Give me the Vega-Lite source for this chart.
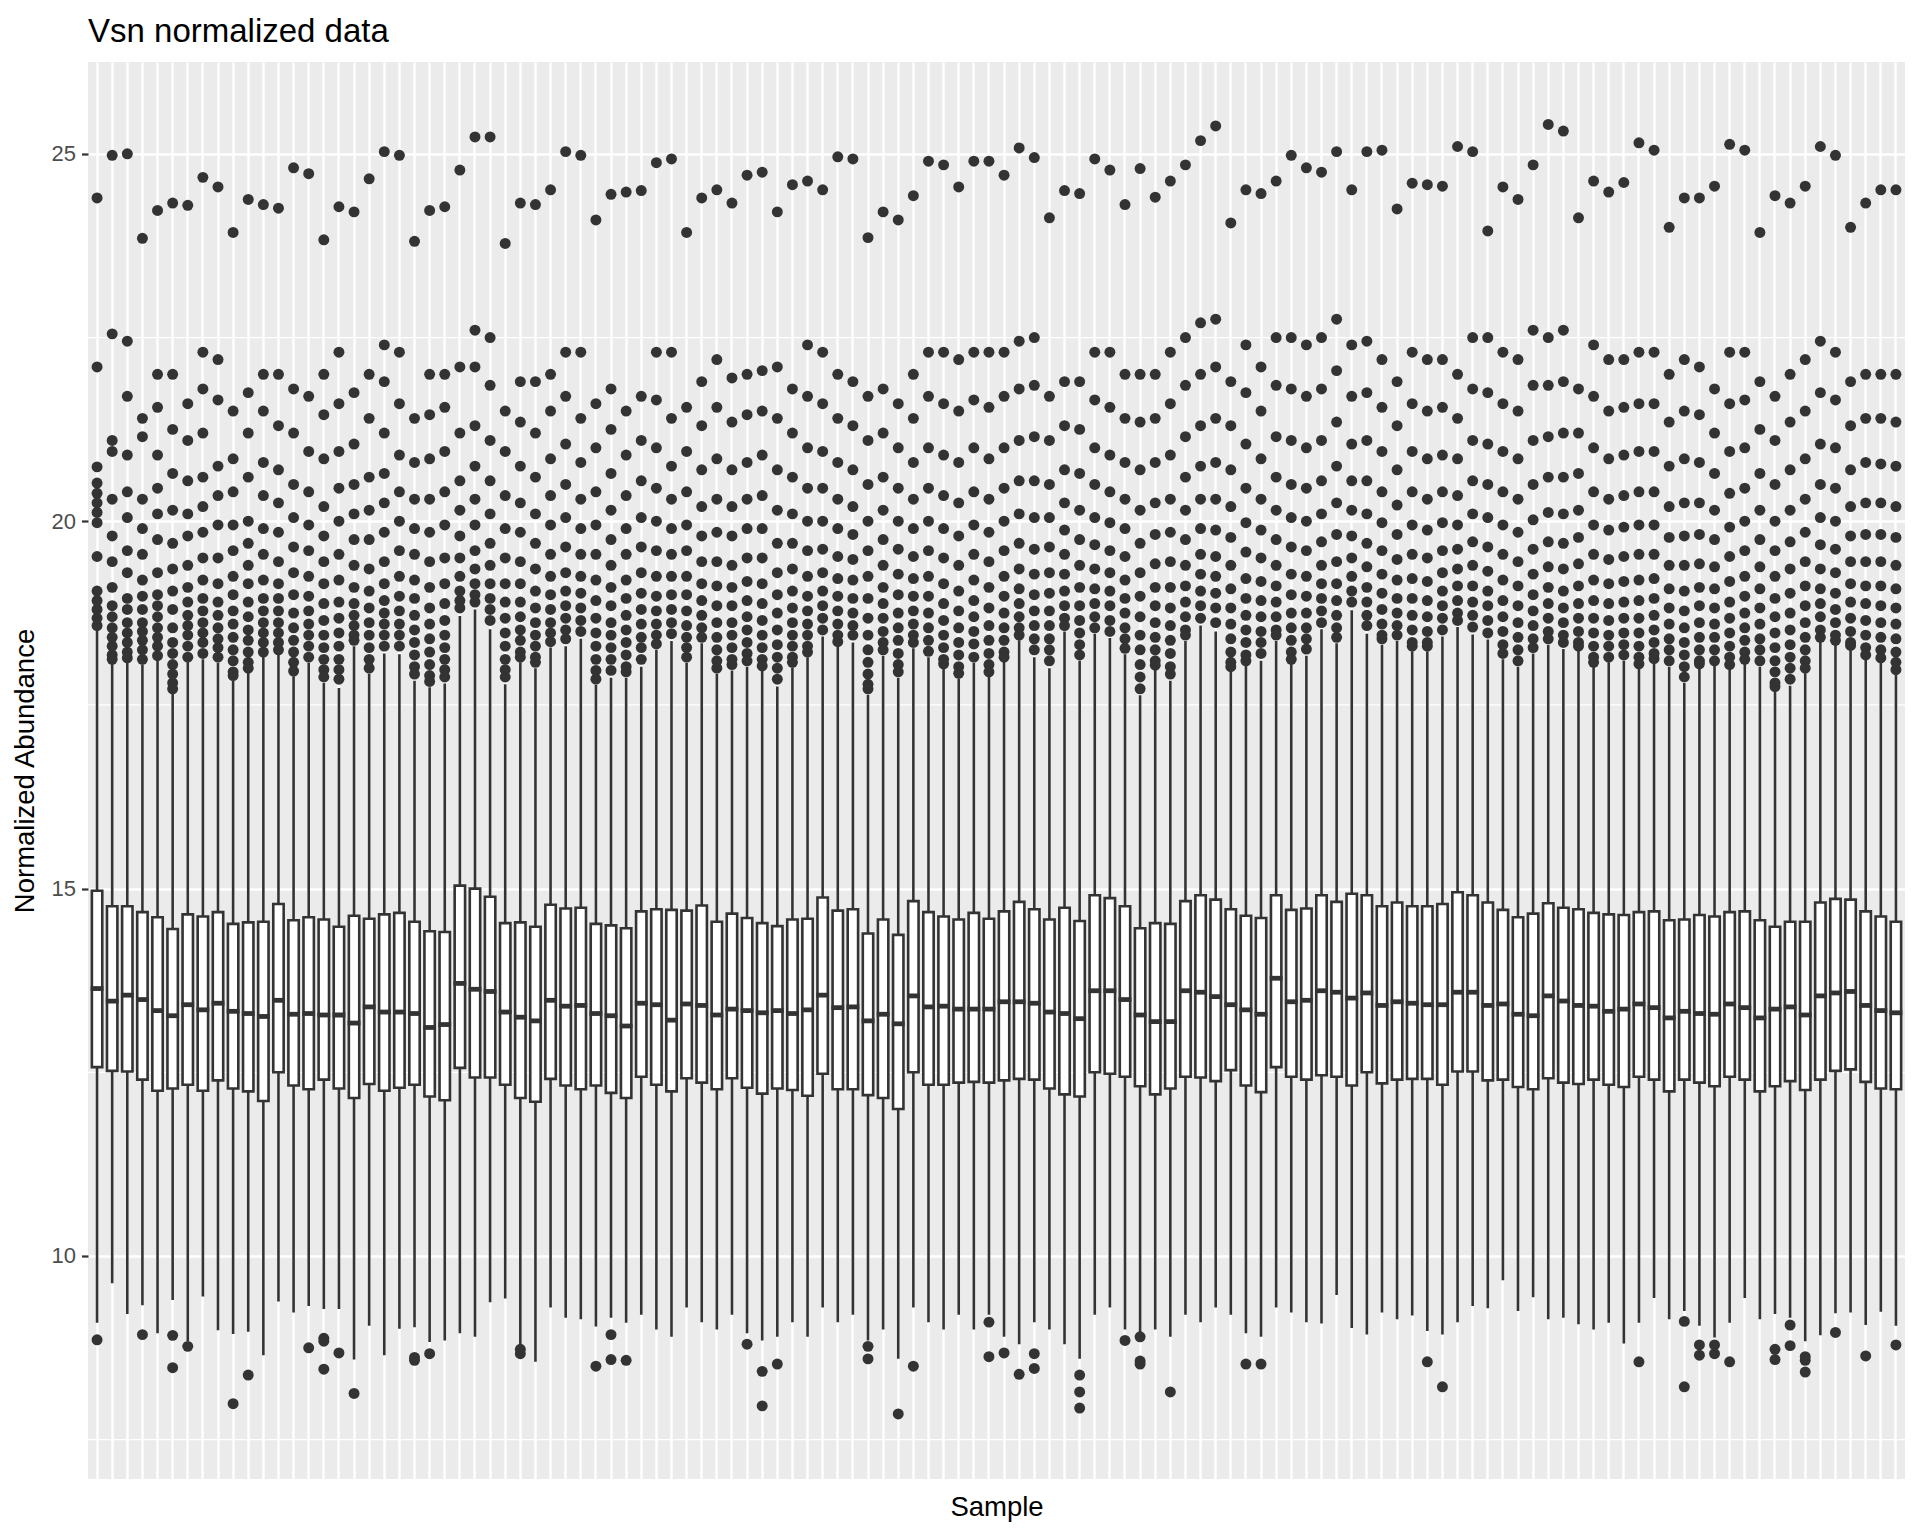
{
"$schema": "https://vega.github.io/schema/vega-lite/v6.json",
"width": 1817, "height": 1417,
"autosize": {"type": "none"},
"padding": {"left": 88, "top": 62, "right": 15, "bottom": 57},
"background": "white",
"title": {"text": "Vsn normalized data", "anchor": "start", "frame": "group", "font": "Liberation Sans", "fontSize": 33, "fontWeight": "normal", "color": "#000000", "offset": 13},
"config": {"view": {"fill": "#EBEBEB", "stroke": null}},
"datasets": {
"boxes": [
{"s":1,"lw":9.09,"q1":12.57,"m":13.64,"q3":14.97,"uw":18.52},
{"s":2,"lw":9.63,"q1":12.52,"m":13.47,"q3":14.76,"uw":18.07},
{"s":3,"lw":9.21,"q1":12.51,"m":13.55,"q3":14.76,"uw":18.08},
{"s":4,"lw":9.33,"q1":12.40,"m":13.49,"q3":14.68,"uw":18.05},
{"s":5,"lw":8.95,"q1":12.25,"m":13.34,"q3":14.61,"uw":18.10},
{"s":6,"lw":9.40,"q1":12.28,"m":13.27,"q3":14.45,"uw":17.65},
{"s":7,"lw":8.84,"q1":12.33,"m":13.42,"q3":14.65,"uw":18.08},
{"s":8,"lw":9.45,"q1":12.25,"m":13.35,"q3":14.62,"uw":18.12},
{"s":9,"lw":8.99,"q1":12.39,"m":13.44,"q3":14.68,"uw":18.07},
{"s":10,"lw":8.94,"q1":12.28,"m":13.33,"q3":14.52,"uw":17.83},
{"s":11,"lw":8.97,"q1":12.24,"m":13.30,"q3":14.54,"uw":17.94},
{"s":12,"lw":8.65,"q1":12.11,"m":13.26,"q3":14.55,"uw":18.16},
{"s":13,"lw":9.38,"q1":12.50,"m":13.48,"q3":14.79,"uw":18.18},
{"s":14,"lw":9.23,"q1":12.32,"m":13.29,"q3":14.57,"uw":17.89},
{"s":15,"lw":9.32,"q1":12.27,"m":13.30,"q3":14.61,"uw":18.07},
{"s":16,"lw":9.28,"q1":12.40,"m":13.28,"q3":14.58,"uw":17.80},
{"s":17,"lw":9.28,"q1":12.28,"m":13.28,"q3":14.48,"uw":17.73},
{"s":18,"lw":8.59,"q1":12.15,"m":13.17,"q3":14.63,"uw":18.30},
{"s":19,"lw":9.05,"q1":12.34,"m":13.39,"q3":14.59,"uw":17.92},
{"s":20,"lw":8.65,"q1":12.25,"m":13.32,"q3":14.65,"uw":18.20},
{"s":21,"lw":9.01,"q1":12.29,"m":13.32,"q3":14.67,"uw":18.19},
{"s":22,"lw":9.03,"q1":12.33,"m":13.30,"q3":14.55,"uw":17.83},
{"s":23,"lw":8.83,"q1":12.17,"m":13.11,"q3":14.42,"uw":17.74},
{"s":24,"lw":8.85,"q1":12.12,"m":13.15,"q3":14.41,"uw":17.79},
{"s":25,"lw":8.95,"q1":12.56,"m":13.71,"q3":15.04,"uw":18.71},
{"s":26,"lw":8.90,"q1":12.43,"m":13.63,"q3":15.00,"uw":18.80},
{"s":27,"lw":9.37,"q1":12.43,"m":13.60,"q3":14.89,"uw":18.53},
{"s":28,"lw":9.42,"q1":12.33,"m":13.32,"q3":14.53,"uw":17.78},
{"s":29,"lw":8.62,"q1":12.15,"m":13.25,"q3":14.54,"uw":18.08},
{"s":30,"lw":8.56,"q1":12.10,"m":13.20,"q3":14.48,"uw":18.00},
{"s":31,"lw":9.30,"q1":12.41,"m":13.48,"q3":14.78,"uw":18.28},
{"s":32,"lw":9.16,"q1":12.32,"m":13.40,"q3":14.73,"uw":18.30},
{"s":33,"lw":9.14,"q1":12.27,"m":13.41,"q3":14.74,"uw":18.40},
{"s":34,"lw":9.04,"q1":12.32,"m":13.30,"q3":14.52,"uw":17.77},
{"s":35,"lw":9.16,"q1":12.22,"m":13.27,"q3":14.50,"uw":17.87},
{"s":36,"lw":9.09,"q1":12.15,"m":13.13,"q3":14.46,"uw":17.87},
{"s":37,"lw":9.20,"q1":12.44,"m":13.44,"q3":14.69,"uw":18.02},
{"s":38,"lw":9.00,"q1":12.33,"m":13.42,"q3":14.72,"uw":18.25},
{"s":39,"lw":8.90,"q1":12.24,"m":13.21,"q3":14.71,"uw":18.37},
{"s":40,"lw":9.30,"q1":12.42,"m":13.43,"q3":14.70,"uw":18.07},
{"s":41,"lw":9.10,"q1":12.36,"m":13.41,"q3":14.77,"uw":18.34},
{"s":42,"lw":9.00,"q1":12.27,"m":13.28,"q3":14.55,"uw":17.92},
{"s":43,"lw":9.20,"q1":12.42,"m":13.36,"q3":14.66,"uw":17.97},
{"s":44,"lw":8.95,"q1":12.29,"m":13.34,"q3":14.60,"uw":18.02},
{"s":45,"lw":8.85,"q1":12.21,"m":13.31,"q3":14.53,"uw":17.96},
{"s":46,"lw":8.90,"q1":12.28,"m":13.34,"q3":14.49,"uw":17.75},
{"s":47,"lw":9.10,"q1":12.26,"m":13.30,"q3":14.58,"uw":18.01},
{"s":48,"lw":8.90,"q1":12.18,"m":13.35,"q3":14.59,"uw":18.15},
{"s":49,"lw":9.30,"q1":12.48,"m":13.55,"q3":14.88,"uw":18.43},
{"s":50,"lw":9.10,"q1":12.27,"m":13.38,"q3":14.70,"uw":18.29},
{"s":51,"lw":9.20,"q1":12.27,"m":13.39,"q3":14.72,"uw":18.35},
{"s":52,"lw":8.85,"q1":12.19,"m":13.20,"q3":14.39,"uw":17.64},
{"s":53,"lw":9.00,"q1":12.15,"m":13.29,"q3":14.58,"uw":18.17},
{"s":54,"lw":8.60,"q1":12.00,"m":13.16,"q3":14.37,"uw":17.87},
{"s":55,"lw":9.30,"q1":12.50,"m":13.54,"q3":14.83,"uw":18.27},
{"s":56,"lw":9.10,"q1":12.33,"m":13.39,"q3":14.68,"uw":18.15},
{"s":57,"lw":9.00,"q1":12.33,"m":13.40,"q3":14.62,"uw":18.00},
{"s":58,"lw":9.20,"q1":12.36,"m":13.36,"q3":14.58,"uw":17.86},
{"s":59,"lw":9.00,"q1":12.37,"m":13.36,"q3":14.67,"uw":18.07},
{"s":60,"lw":9.20,"q1":12.36,"m":13.36,"q3":14.59,"uw":17.88},
{"s":61,"lw":8.90,"q1":12.39,"m":13.46,"q3":14.69,"uw":18.09},
{"s":62,"lw":8.80,"q1":12.41,"m":13.46,"q3":14.82,"uw":18.38},
{"s":63,"lw":9.10,"q1":12.40,"m":13.44,"q3":14.72,"uw":18.15},
{"s":64,"lw":9.00,"q1":12.28,"m":13.32,"q3":14.58,"uw":18.00},
{"s":65,"lw":8.80,"q1":12.20,"m":13.30,"q3":14.74,"uw":18.50},
{"s":66,"lw":8.60,"q1":12.17,"m":13.23,"q3":14.56,"uw":18.10},
{"s":67,"lw":9.20,"q1":12.50,"m":13.61,"q3":14.91,"uw":18.47},
{"s":68,"lw":9.30,"q1":12.48,"m":13.61,"q3":14.87,"uw":18.41},
{"s":69,"lw":9.00,"q1":12.44,"m":13.49,"q3":14.76,"uw":18.19},
{"s":70,"lw":8.95,"q1":12.31,"m":13.28,"q3":14.46,"uw":17.63},
{"s":71,"lw":9.00,"q1":12.20,"m":13.19,"q3":14.53,"uw":17.98},
{"s":72,"lw":8.90,"q1":12.28,"m":13.19,"q3":14.52,"uw":17.83},
{"s":73,"lw":9.20,"q1":12.44,"m":13.61,"q3":14.83,"uw":18.37},
{"s":74,"lw":9.10,"q1":12.43,"m":13.59,"q3":14.91,"uw":18.58},
{"s":75,"lw":9.30,"q1":12.38,"m":13.53,"q3":14.85,"uw":18.50},
{"s":76,"lw":9.20,"q1":12.53,"m":13.42,"q3":14.72,"uw":17.95},
{"s":77,"lw":8.95,"q1":12.32,"m":13.35,"q3":14.63,"uw":18.04},
{"s":78,"lw":8.90,"q1":12.23,"m":13.29,"q3":14.60,"uw":18.10},
{"s":79,"lw":9.30,"q1":12.57,"m":13.78,"q3":14.91,"uw":18.37},
{"s":80,"lw":9.23,"q1":12.44,"m":13.46,"q3":14.71,"uw":18.06},
{"s":81,"lw":9.10,"q1":12.40,"m":13.48,"q3":14.73,"uw":18.17},
{"s":82,"lw":9.08,"q1":12.46,"m":13.61,"q3":14.91,"uw":18.53},
{"s":83,"lw":9.47,"q1":12.44,"m":13.59,"q3":14.82,"uw":18.34},
{"s":84,"lw":9.02,"q1":12.32,"m":13.51,"q3":14.93,"uw":18.79},
{"s":85,"lw":8.93,"q1":12.50,"m":13.58,"q3":14.91,"uw":18.47},
{"s":86,"lw":9.23,"q1":12.35,"m":13.41,"q3":14.76,"uw":18.32},
{"s":87,"lw":9.14,"q1":12.40,"m":13.46,"q3":14.81,"uw":18.37},
{"s":88,"lw":9.19,"q1":12.41,"m":13.44,"q3":14.76,"uw":18.23},
{"s":89,"lw":8.98,"q1":12.41,"m":13.42,"q3":14.76,"uw":18.23},
{"s":90,"lw":8.93,"q1":12.33,"m":13.42,"q3":14.79,"uw":18.43},
{"s":91,"lw":9.10,"q1":12.51,"m":13.59,"q3":14.95,"uw":18.56},
{"s":92,"lw":9.32,"q1":12.51,"m":13.59,"q3":14.91,"uw":18.46},
{"s":93,"lw":9.29,"q1":12.39,"m":13.41,"q3":14.81,"uw":18.39},
{"s":94,"lw":9.67,"q1":12.40,"m":13.43,"q3":14.71,"uw":18.12},
{"s":95,"lw":9.25,"q1":12.30,"m":13.29,"q3":14.61,"uw":18.02},
{"s":96,"lw":9.44,"q1":12.27,"m":13.27,"q3":14.66,"uw":18.20},
{"s":97,"lw":9.14,"q1":12.42,"m":13.54,"q3":14.80,"uw":18.32},
{"s":98,"lw":9.16,"q1":12.36,"m":13.47,"q3":14.74,"uw":18.26},
{"s":99,"lw":9.07,"q1":12.34,"m":13.41,"q3":14.72,"uw":18.24},
{"s":100,"lw":9.00,"q1":12.40,"m":13.40,"q3":14.67,"uw":18.02},
{"s":101,"lw":9.09,"q1":12.33,"m":13.33,"q3":14.65,"uw":18.08},
{"s":102,"lw":8.81,"q1":12.30,"m":13.36,"q3":14.64,"uw":18.10},
{"s":103,"lw":9.09,"q1":12.44,"m":13.43,"q3":14.68,"uw":17.99},
{"s":104,"lw":9.43,"q1":12.40,"m":13.38,"q3":14.69,"uw":18.07},
{"s":105,"lw":9.14,"q1":12.24,"m":13.24,"q3":14.57,"uw":18.02},
{"s":106,"lw":9.25,"q1":12.40,"m":13.33,"q3":14.58,"uw":17.80},
{"s":107,"lw":9.05,"q1":12.36,"m":13.30,"q3":14.64,"uw":18.01},
{"s":108,"lw":8.89,"q1":12.31,"m":13.29,"q3":14.62,"uw":18.03},
{"s":109,"lw":9.09,"q1":12.44,"m":13.43,"q3":14.68,"uw":17.99},
{"s":110,"lw":9.43,"q1":12.40,"m":13.38,"q3":14.69,"uw":18.07},
{"s":111,"lw":9.14,"q1":12.24,"m":13.24,"q3":14.57,"uw":18.02},
{"s":112,"lw":9.21,"q1":12.31,"m":13.36,"q3":14.48,"uw":17.69},
{"s":113,"lw":9.16,"q1":12.38,"m":13.39,"q3":14.55,"uw":17.76},
{"s":114,"lw":8.84,"q1":12.26,"m":13.28,"q3":14.55,"uw":17.93},
{"s":115,"lw":8.92,"q1":12.40,"m":13.54,"q3":14.81,"uw":18.37},
{"s":116,"lw":9.22,"q1":12.52,"m":13.58,"q3":14.86,"uw":18.32},
{"s":117,"lw":9.23,"q1":12.54,"m":13.60,"q3":14.85,"uw":18.27},
{"s":118,"lw":9.06,"q1":12.37,"m":13.41,"q3":14.69,"uw":18.12},
{"s":119,"lw":9.24,"q1":12.28,"m":13.34,"q3":14.62,"uw":18.08},
{"s":120,"lw":9.05,"q1":12.27,"m":13.31,"q3":14.55,"uw":17.92}
],
"out": [
{"s":1,"v":24.40},{"s":1,"v":22.10},{"s":1,"v":20.74},{"s":1,"v":20.52},{"s":1,"v":20.38},{"s":1,"v":20.25},{"s":1,"v":20.12},{"s":1,"v":19.98},{"s":1,"v":19.52},{"s":1,"v":19.05},{"s":1,"v":18.92},{"s":1,"v":18.80},{"s":1,"v":18.68},{"s":1,"v":18.58},{"s":1,"v":8.86},
{"s":2,"v":24.98},{"s":2,"v":22.55},{"s":2,"v":21.10},{"s":2,"v":20.95},{"s":2,"v":20.30},{"s":2,"v":19.80},{"s":2,"v":19.45},{"s":2,"v":19.10},{"s":2,"v":18.85},{"s":2,"v":18.70},{"s":2,"v":18.55},{"s":2,"v":18.42},{"s":2,"v":18.30},{"s":2,"v":18.18},{"s":2,"v":18.12},
{"s":3,"v":25.00},{"s":3,"v":22.45},{"s":3,"v":21.70},{"s":3,"v":20.90},{"s":3,"v":20.40},{"s":3,"v":20.05},{"s":3,"v":19.60},{"s":3,"v":19.30},{"s":3,"v":18.95},{"s":3,"v":18.80},{"s":3,"v":18.62},{"s":3,"v":18.48},{"s":3,"v":18.35},{"s":3,"v":18.22},{"s":3,"v":18.14},
{"s":4,"v":23.85},{"s":4,"v":21.40},{"s":4,"v":21.15},{"s":4,"v":20.30},{"s":4,"v":19.90},{"s":4,"v":19.55},{"s":4,"v":19.20},{"s":4,"v":18.98},{"s":4,"v":18.80},{"s":4,"v":18.62},{"s":4,"v":18.50},{"s":4,"v":18.38},{"s":4,"v":18.25},{"s":4,"v":18.12},{"s":4,"v":8.93},
{"s":5,"v":24.23},{"s":5,"v":22.00},{"s":5,"v":21.55},{"s":5,"v":20.90},{"s":5,"v":20.45},{"s":5,"v":20.10},{"s":5,"v":19.75},{"s":5,"v":19.30},{"s":5,"v":19.00},{"s":5,"v":18.85},{"s":5,"v":18.70},{"s":5,"v":18.55},{"s":5,"v":18.42},{"s":5,"v":18.30},{"s":5,"v":18.17},
{"s":6,"v":24.33},{"s":6,"v":22.00},{"s":6,"v":21.25},{"s":6,"v":20.65},{"s":6,"v":20.15},{"s":6,"v":19.70},{"s":6,"v":19.35},{"s":6,"v":19.05},{"s":6,"v":18.80},{"s":6,"v":18.55},{"s":6,"v":18.35},{"s":6,"v":18.20},{"s":6,"v":18.05},{"s":6,"v":17.92},{"s":6,"v":17.80},{"s":6,"v":17.72},{"s":6,"v":8.92},{"s":6,"v":8.48},
{"s":7,"v":24.30},{"s":7,"v":21.60},{"s":7,"v":21.10},{"s":7,"v":20.55},{"s":7,"v":20.10},{"s":7,"v":19.80},{"s":7,"v":19.40},{"s":7,"v":19.10},{"s":7,"v":18.90},{"s":7,"v":18.72},{"s":7,"v":18.58},{"s":7,"v":18.45},{"s":7,"v":18.30},{"s":7,"v":18.15},{"s":7,"v":8.77},
{"s":8,"v":24.68},{"s":8,"v":22.30},{"s":8,"v":21.80},{"s":8,"v":21.20},{"s":8,"v":20.60},{"s":8,"v":20.20},{"s":8,"v":19.85},{"s":8,"v":19.50},{"s":8,"v":19.20},{"s":8,"v":18.95},{"s":8,"v":18.78},{"s":8,"v":18.62},{"s":8,"v":18.48},{"s":8,"v":18.35},{"s":8,"v":18.20},
{"s":9,"v":24.55},{"s":9,"v":22.20},{"s":9,"v":21.65},{"s":9,"v":20.75},{"s":9,"v":20.35},{"s":9,"v":19.95},{"s":9,"v":19.50},{"s":9,"v":19.15},{"s":9,"v":18.90},{"s":9,"v":18.72},{"s":9,"v":18.55},{"s":9,"v":18.40},{"s":9,"v":18.28},{"s":9,"v":18.15},
{"s":10,"v":23.93},{"s":10,"v":21.50},{"s":10,"v":20.85},{"s":10,"v":20.40},{"s":10,"v":19.95},{"s":10,"v":19.60},{"s":10,"v":19.25},{"s":10,"v":19.00},{"s":10,"v":18.78},{"s":10,"v":18.60},{"s":10,"v":18.42},{"s":10,"v":18.25},{"s":10,"v":18.10},{"s":10,"v":17.95},{"s":10,"v":17.90},{"s":10,"v":7.99},
{"s":11,"v":24.38},{"s":11,"v":21.75},{"s":11,"v":21.20},{"s":11,"v":20.60},{"s":11,"v":20.00},{"s":11,"v":19.70},{"s":11,"v":19.40},{"s":11,"v":19.15},{"s":11,"v":18.90},{"s":11,"v":18.70},{"s":11,"v":18.52},{"s":11,"v":18.38},{"s":11,"v":18.22},{"s":11,"v":18.08},{"s":11,"v":18.00},{"s":11,"v":8.38},
{"s":12,"v":24.31},{"s":12,"v":22.00},{"s":12,"v":21.50},{"s":12,"v":20.80},{"s":12,"v":20.35},{"s":12,"v":19.90},{"s":12,"v":19.55},{"s":12,"v":19.20},{"s":12,"v":18.95},{"s":12,"v":18.78},{"s":12,"v":18.62},{"s":12,"v":18.48},{"s":12,"v":18.35},{"s":12,"v":18.22},
{"s":13,"v":24.26},{"s":13,"v":22.00},{"s":13,"v":21.30},{"s":13,"v":20.70},{"s":13,"v":20.25},{"s":13,"v":19.85},{"s":13,"v":19.45},{"s":13,"v":19.15},{"s":13,"v":18.95},{"s":13,"v":18.78},{"s":13,"v":18.62},{"s":13,"v":18.48},{"s":13,"v":18.35},{"s":13,"v":18.25},
{"s":14,"v":24.81},{"s":14,"v":21.80},{"s":14,"v":21.20},{"s":14,"v":20.50},{"s":14,"v":20.05},{"s":14,"v":19.65},{"s":14,"v":19.30},{"s":14,"v":19.00},{"s":14,"v":18.75},{"s":14,"v":18.55},{"s":14,"v":18.38},{"s":14,"v":18.22},{"s":14,"v":18.08},{"s":14,"v":17.96},
{"s":15,"v":24.73},{"s":15,"v":21.70},{"s":15,"v":20.95},{"s":15,"v":20.40},{"s":15,"v":19.95},{"s":15,"v":19.60},{"s":15,"v":19.25},{"s":15,"v":18.98},{"s":15,"v":18.78},{"s":15,"v":18.60},{"s":15,"v":18.45},{"s":15,"v":18.30},{"s":15,"v":18.15},{"s":15,"v":8.75},
{"s":16,"v":23.83},{"s":16,"v":22.00},{"s":16,"v":21.45},{"s":16,"v":20.85},{"s":16,"v":20.20},{"s":16,"v":19.80},{"s":16,"v":19.45},{"s":16,"v":19.15},{"s":16,"v":18.88},{"s":16,"v":18.65},{"s":16,"v":18.45},{"s":16,"v":18.28},{"s":16,"v":18.12},{"s":16,"v":17.98},{"s":16,"v":17.88},{"s":16,"v":8.88},{"s":16,"v":8.84},{"s":16,"v":8.46},
{"s":17,"v":24.28},{"s":17,"v":22.30},{"s":17,"v":21.60},{"s":17,"v":20.95},{"s":17,"v":20.45},{"s":17,"v":20.00},{"s":17,"v":19.55},{"s":17,"v":19.20},{"s":17,"v":18.90},{"s":17,"v":18.68},{"s":17,"v":18.48},{"s":17,"v":18.30},{"s":17,"v":18.12},{"s":17,"v":17.98},{"s":17,"v":17.85},{"s":17,"v":8.68},
{"s":18,"v":24.21},{"s":18,"v":21.75},{"s":18,"v":21.05},{"s":18,"v":20.50},{"s":18,"v":20.10},{"s":18,"v":19.75},{"s":18,"v":19.40},{"s":18,"v":19.10},{"s":18,"v":18.88},{"s":18,"v":18.72},{"s":18,"v":18.58},{"s":18,"v":18.45},{"s":18,"v":18.38},{"s":18,"v":8.13},
{"s":19,"v":24.66},{"s":19,"v":22.00},{"s":19,"v":21.40},{"s":19,"v":20.60},{"s":19,"v":20.15},{"s":19,"v":19.75},{"s":19,"v":19.35},{"s":19,"v":19.05},{"s":19,"v":18.82},{"s":19,"v":18.62},{"s":19,"v":18.45},{"s":19,"v":18.28},{"s":19,"v":18.12},{"s":19,"v":18.00},
{"s":20,"v":25.03},{"s":20,"v":22.40},{"s":20,"v":21.90},{"s":20,"v":21.20},{"s":20,"v":20.65},{"s":20,"v":20.25},{"s":20,"v":19.85},{"s":20,"v":19.45},{"s":20,"v":19.15},{"s":20,"v":18.92},{"s":20,"v":18.75},{"s":20,"v":18.60},{"s":20,"v":18.45},{"s":20,"v":18.30},
{"s":21,"v":24.98},{"s":21,"v":22.30},{"s":21,"v":21.60},{"s":21,"v":20.90},{"s":21,"v":20.40},{"s":21,"v":20.00},{"s":21,"v":19.60},{"s":21,"v":19.25},{"s":21,"v":18.98},{"s":21,"v":18.78},{"s":21,"v":18.60},{"s":21,"v":18.45},{"s":21,"v":18.30},
{"s":22,"v":23.81},{"s":22,"v":21.40},{"s":22,"v":20.80},{"s":22,"v":20.30},{"s":22,"v":19.90},{"s":22,"v":19.55},{"s":22,"v":19.20},{"s":22,"v":18.95},{"s":22,"v":18.72},{"s":22,"v":18.52},{"s":22,"v":18.35},{"s":22,"v":18.18},{"s":22,"v":18.02},{"s":22,"v":17.92},{"s":22,"v":8.62},{"s":22,"v":8.58},
{"s":23,"v":24.23},{"s":23,"v":22.00},{"s":23,"v":21.45},{"s":23,"v":20.85},{"s":23,"v":20.30},{"s":23,"v":19.85},{"s":23,"v":19.45},{"s":23,"v":19.10},{"s":23,"v":18.82},{"s":23,"v":18.60},{"s":23,"v":18.40},{"s":23,"v":18.22},{"s":23,"v":18.05},{"s":23,"v":17.90},{"s":23,"v":17.82},{"s":23,"v":8.67},
{"s":24,"v":24.28},{"s":24,"v":22.00},{"s":24,"v":21.55},{"s":24,"v":20.95},{"s":24,"v":20.40},{"s":24,"v":19.95},{"s":24,"v":19.50},{"s":24,"v":19.15},{"s":24,"v":18.88},{"s":24,"v":18.65},{"s":24,"v":18.45},{"s":24,"v":18.28},{"s":24,"v":18.12},{"s":24,"v":17.98},{"s":24,"v":17.88},
{"s":25,"v":24.78},{"s":25,"v":22.10},{"s":25,"v":21.20},{"s":25,"v":20.55},{"s":25,"v":20.15},{"s":25,"v":19.80},{"s":25,"v":19.50},{"s":25,"v":19.25},{"s":25,"v":19.05},{"s":25,"v":18.92},{"s":25,"v":18.82},
{"s":26,"v":25.23},{"s":26,"v":22.60},{"s":26,"v":22.10},{"s":26,"v":21.30},{"s":26,"v":20.75},{"s":26,"v":20.30},{"s":26,"v":19.95},{"s":26,"v":19.60},{"s":26,"v":19.35},{"s":26,"v":19.15},{"s":26,"v":19.00},{"s":26,"v":18.90},
{"s":27,"v":25.23},{"s":27,"v":22.50},{"s":27,"v":21.85},{"s":27,"v":21.10},{"s":27,"v":20.55},{"s":27,"v":20.10},{"s":27,"v":19.70},{"s":27,"v":19.40},{"s":27,"v":19.15},{"s":27,"v":18.95},{"s":27,"v":18.80},{"s":27,"v":18.65},
{"s":28,"v":23.78},{"s":28,"v":21.50},{"s":28,"v":20.95},{"s":28,"v":20.35},{"s":28,"v":19.90},{"s":28,"v":19.50},{"s":28,"v":19.15},{"s":28,"v":18.90},{"s":28,"v":18.68},{"s":28,"v":18.48},{"s":28,"v":18.30},{"s":28,"v":18.12},{"s":28,"v":17.98},{"s":28,"v":17.88},
{"s":29,"v":24.33},{"s":29,"v":21.90},{"s":29,"v":21.35},{"s":29,"v":20.75},{"s":29,"v":20.25},{"s":29,"v":19.85},{"s":29,"v":19.45},{"s":29,"v":19.15},{"s":29,"v":18.90},{"s":29,"v":18.70},{"s":29,"v":18.52},{"s":29,"v":18.38},{"s":29,"v":18.22},{"s":29,"v":18.15},{"s":29,"v":8.73},{"s":29,"v":8.67},
{"s":30,"v":24.31},{"s":30,"v":21.90},{"s":30,"v":21.20},{"s":30,"v":20.60},{"s":30,"v":20.10},{"s":30,"v":19.70},{"s":30,"v":19.35},{"s":30,"v":19.05},{"s":30,"v":18.82},{"s":30,"v":18.62},{"s":30,"v":18.45},{"s":30,"v":18.30},{"s":30,"v":18.15},{"s":30,"v":18.08},
{"s":31,"v":24.51},{"s":31,"v":22.00},{"s":31,"v":21.50},{"s":31,"v":20.85},{"s":31,"v":20.35},{"s":31,"v":19.95},{"s":31,"v":19.55},{"s":31,"v":19.25},{"s":31,"v":19.00},{"s":31,"v":18.80},{"s":31,"v":18.62},{"s":31,"v":18.48},{"s":31,"v":18.36},
{"s":32,"v":25.03},{"s":32,"v":22.30},{"s":32,"v":21.70},{"s":32,"v":21.05},{"s":32,"v":20.50},{"s":32,"v":20.05},{"s":32,"v":19.65},{"s":32,"v":19.30},{"s":32,"v":19.05},{"s":32,"v":18.85},{"s":32,"v":18.68},{"s":32,"v":18.52},{"s":32,"v":18.40},
{"s":33,"v":24.98},{"s":33,"v":22.30},{"s":33,"v":21.40},{"s":33,"v":20.80},{"s":33,"v":20.30},{"s":33,"v":19.90},{"s":33,"v":19.55},{"s":33,"v":19.25},{"s":33,"v":19.02},{"s":33,"v":18.82},{"s":33,"v":18.65},{"s":33,"v":18.50},
{"s":34,"v":24.10},{"s":34,"v":21.60},{"s":34,"v":21.00},{"s":34,"v":20.40},{"s":34,"v":19.95},{"s":34,"v":19.55},{"s":34,"v":19.20},{"s":34,"v":18.92},{"s":34,"v":18.68},{"s":34,"v":18.48},{"s":34,"v":18.30},{"s":34,"v":18.12},{"s":34,"v":17.97},{"s":34,"v":17.85},{"s":34,"v":8.50},
{"s":35,"v":24.45},{"s":35,"v":21.80},{"s":35,"v":21.25},{"s":35,"v":20.65},{"s":35,"v":20.15},{"s":35,"v":19.75},{"s":35,"v":19.40},{"s":35,"v":19.10},{"s":35,"v":18.85},{"s":35,"v":18.62},{"s":35,"v":18.45},{"s":35,"v":18.28},{"s":35,"v":18.12},{"s":35,"v":17.97},{"s":35,"v":8.93},{"s":35,"v":8.59},
{"s":36,"v":24.48},{"s":36,"v":21.50},{"s":36,"v":20.90},{"s":36,"v":20.35},{"s":36,"v":19.90},{"s":36,"v":19.55},{"s":36,"v":19.20},{"s":36,"v":18.95},{"s":36,"v":18.72},{"s":36,"v":18.52},{"s":36,"v":18.35},{"s":36,"v":18.18},{"s":36,"v":18.02},{"s":36,"v":17.95},{"s":36,"v":8.58},
{"s":37,"v":24.50},{"s":37,"v":21.70},{"s":37,"v":21.10},{"s":37,"v":20.55},{"s":37,"v":20.05},{"s":37,"v":19.65},{"s":37,"v":19.30},{"s":37,"v":19.02},{"s":37,"v":18.80},{"s":37,"v":18.60},{"s":37,"v":18.42},{"s":37,"v":18.28},{"s":37,"v":18.12},
{"s":38,"v":24.88},{"s":38,"v":22.30},{"s":38,"v":21.65},{"s":38,"v":21.00},{"s":38,"v":20.45},{"s":38,"v":20.00},{"s":38,"v":19.60},{"s":38,"v":19.25},{"s":38,"v":18.98},{"s":38,"v":18.78},{"s":38,"v":18.60},{"s":38,"v":18.45},{"s":38,"v":18.33},
{"s":39,"v":24.93},{"s":39,"v":22.30},{"s":39,"v":21.40},{"s":39,"v":20.75},{"s":39,"v":20.30},{"s":39,"v":19.90},{"s":39,"v":19.55},{"s":39,"v":19.25},{"s":39,"v":19.00},{"s":39,"v":18.80},{"s":39,"v":18.62},{"s":39,"v":18.47},
{"s":40,"v":23.93},{"s":40,"v":21.55},{"s":40,"v":20.95},{"s":40,"v":20.40},{"s":40,"v":19.95},{"s":40,"v":19.60},{"s":40,"v":19.25},{"s":40,"v":19.00},{"s":40,"v":18.78},{"s":40,"v":18.58},{"s":40,"v":18.42},{"s":40,"v":18.28},{"s":40,"v":18.15},
{"s":41,"v":24.40},{"s":41,"v":21.90},{"s":41,"v":21.30},{"s":41,"v":20.70},{"s":41,"v":20.20},{"s":41,"v":19.80},{"s":41,"v":19.45},{"s":41,"v":19.15},{"s":41,"v":18.92},{"s":41,"v":18.72},{"s":41,"v":18.55},{"s":41,"v":18.42},
{"s":42,"v":24.51},{"s":42,"v":22.20},{"s":42,"v":21.55},{"s":42,"v":20.85},{"s":42,"v":20.30},{"s":42,"v":19.85},{"s":42,"v":19.45},{"s":42,"v":19.12},{"s":42,"v":18.85},{"s":42,"v":18.62},{"s":42,"v":18.42},{"s":42,"v":18.25},{"s":42,"v":18.10},{"s":42,"v":18.00},
{"s":43,"v":24.33},{"s":43,"v":21.95},{"s":43,"v":21.35},{"s":43,"v":20.70},{"s":43,"v":20.20},{"s":43,"v":19.80},{"s":43,"v":19.40},{"s":43,"v":19.10},{"s":43,"v":18.85},{"s":43,"v":18.62},{"s":43,"v":18.45},{"s":43,"v":18.28},{"s":43,"v":18.12},{"s":43,"v":18.05},
{"s":44,"v":24.71},{"s":44,"v":22.00},{"s":44,"v":21.45},{"s":44,"v":20.80},{"s":44,"v":20.30},{"s":44,"v":19.90},{"s":44,"v":19.50},{"s":44,"v":19.18},{"s":44,"v":18.92},{"s":44,"v":18.70},{"s":44,"v":18.52},{"s":44,"v":18.35},{"s":44,"v":18.20},{"s":44,"v":18.10},{"s":44,"v":8.80},
{"s":45,"v":24.75},{"s":45,"v":22.05},{"s":45,"v":21.50},{"s":45,"v":20.90},{"s":45,"v":20.35},{"s":45,"v":19.90},{"s":45,"v":19.50},{"s":45,"v":19.15},{"s":45,"v":18.88},{"s":45,"v":18.65},{"s":45,"v":18.45},{"s":45,"v":18.28},{"s":45,"v":18.12},{"s":45,"v":18.03},{"s":45,"v":8.43},{"s":45,"v":7.96},
{"s":46,"v":24.21},{"s":46,"v":22.10},{"s":46,"v":21.40},{"s":46,"v":20.70},{"s":46,"v":20.15},{"s":46,"v":19.70},{"s":46,"v":19.30},{"s":46,"v":19.00},{"s":46,"v":18.75},{"s":46,"v":18.52},{"s":46,"v":18.32},{"s":46,"v":18.15},{"s":46,"v":18.00},{"s":46,"v":17.85},{"s":46,"v":8.53},
{"s":47,"v":24.58},{"s":47,"v":21.80},{"s":47,"v":21.20},{"s":47,"v":20.60},{"s":47,"v":20.10},{"s":47,"v":19.70},{"s":47,"v":19.35},{"s":47,"v":19.05},{"s":47,"v":18.82},{"s":47,"v":18.62},{"s":47,"v":18.45},{"s":47,"v":18.30},{"s":47,"v":18.15},{"s":47,"v":18.08},
{"s":48,"v":24.63},{"s":48,"v":22.40},{"s":48,"v":21.70},{"s":48,"v":21.00},{"s":48,"v":20.45},{"s":48,"v":20.00},{"s":48,"v":19.60},{"s":48,"v":19.25},{"s":48,"v":18.98},{"s":48,"v":18.78},{"s":48,"v":18.60},{"s":48,"v":18.45},{"s":48,"v":18.30},{"s":48,"v":18.22},
{"s":49,"v":24.51},{"s":49,"v":22.30},{"s":49,"v":21.60},{"s":49,"v":20.95},{"s":49,"v":20.45},{"s":49,"v":20.00},{"s":49,"v":19.62},{"s":49,"v":19.30},{"s":49,"v":19.05},{"s":49,"v":18.85},{"s":49,"v":18.68},{"s":49,"v":18.52},
{"s":50,"v":24.96},{"s":50,"v":22.00},{"s":50,"v":21.40},{"s":50,"v":20.80},{"s":50,"v":20.30},{"s":50,"v":19.90},{"s":50,"v":19.52},{"s":50,"v":19.22},{"s":50,"v":18.98},{"s":50,"v":18.78},{"s":50,"v":18.60},{"s":50,"v":18.45},{"s":50,"v":18.36},
{"s":51,"v":24.93},{"s":51,"v":21.90},{"s":51,"v":21.30},{"s":51,"v":20.70},{"s":51,"v":20.20},{"s":51,"v":19.82},{"s":51,"v":19.48},{"s":51,"v":19.20},{"s":51,"v":18.95},{"s":51,"v":18.75},{"s":51,"v":18.58},{"s":51,"v":18.45},
{"s":52,"v":23.86},{"s":52,"v":21.70},{"s":52,"v":21.10},{"s":52,"v":20.50},{"s":52,"v":20.00},{"s":52,"v":19.60},{"s":52,"v":19.25},{"s":52,"v":18.95},{"s":52,"v":18.68},{"s":52,"v":18.45},{"s":52,"v":18.25},{"s":52,"v":18.08},{"s":52,"v":17.92},{"s":52,"v":17.78},{"s":52,"v":17.72},{"s":52,"v":8.77},{"s":52,"v":8.60},
{"s":53,"v":24.21},{"s":53,"v":21.80},{"s":53,"v":21.20},{"s":53,"v":20.60},{"s":53,"v":20.15},{"s":53,"v":19.75},{"s":53,"v":19.40},{"s":53,"v":19.10},{"s":53,"v":18.88},{"s":53,"v":18.68},{"s":53,"v":18.50},{"s":53,"v":18.35},{"s":53,"v":18.25},
{"s":54,"v":24.10},{"s":54,"v":21.60},{"s":54,"v":21.00},{"s":54,"v":20.45},{"s":54,"v":20.00},{"s":54,"v":19.62},{"s":54,"v":19.28},{"s":54,"v":19.00},{"s":54,"v":18.75},{"s":54,"v":18.55},{"s":54,"v":18.38},{"s":54,"v":18.20},{"s":54,"v":18.05},{"s":54,"v":17.95},{"s":54,"v":7.85},
{"s":55,"v":24.43},{"s":55,"v":22.00},{"s":55,"v":21.40},{"s":55,"v":20.80},{"s":55,"v":20.30},{"s":55,"v":19.90},{"s":55,"v":19.52},{"s":55,"v":19.22},{"s":55,"v":18.98},{"s":55,"v":18.78},{"s":55,"v":18.60},{"s":55,"v":18.45},{"s":55,"v":18.35},{"s":55,"v":8.50},
{"s":56,"v":24.90},{"s":56,"v":22.30},{"s":56,"v":21.70},{"s":56,"v":21.00},{"s":56,"v":20.45},{"s":56,"v":20.00},{"s":56,"v":19.60},{"s":56,"v":19.25},{"s":56,"v":18.98},{"s":56,"v":18.75},{"s":56,"v":18.55},{"s":56,"v":18.38},{"s":56,"v":18.23},
{"s":57,"v":24.85},{"s":57,"v":22.30},{"s":57,"v":21.60},{"s":57,"v":20.90},{"s":57,"v":20.35},{"s":57,"v":19.90},{"s":57,"v":19.50},{"s":57,"v":19.15},{"s":57,"v":18.88},{"s":57,"v":18.65},{"s":57,"v":18.45},{"s":57,"v":18.28},{"s":57,"v":18.12},{"s":57,"v":18.06},
{"s":58,"v":24.55},{"s":58,"v":22.20},{"s":58,"v":21.50},{"s":58,"v":20.80},{"s":58,"v":20.25},{"s":58,"v":19.80},{"s":58,"v":19.40},{"s":58,"v":19.05},{"s":58,"v":18.78},{"s":58,"v":18.55},{"s":58,"v":18.35},{"s":58,"v":18.18},{"s":58,"v":18.02},{"s":58,"v":17.93},
{"s":59,"v":24.90},{"s":59,"v":22.30},{"s":59,"v":21.65},{"s":59,"v":21.00},{"s":59,"v":20.40},{"s":59,"v":19.95},{"s":59,"v":19.55},{"s":59,"v":19.20},{"s":59,"v":18.92},{"s":59,"v":18.70},{"s":59,"v":18.50},{"s":59,"v":18.33},{"s":59,"v":18.15},
{"s":60,"v":24.90},{"s":60,"v":22.30},{"s":60,"v":21.55},{"s":60,"v":20.85},{"s":60,"v":20.30},{"s":60,"v":19.85},{"s":60,"v":19.45},{"s":60,"v":19.10},{"s":60,"v":18.82},{"s":60,"v":18.58},{"s":60,"v":18.38},{"s":60,"v":18.20},{"s":60,"v":18.05},{"s":60,"v":17.95},{"s":60,"v":9.10},{"s":60,"v":8.63},
{"s":61,"v":24.71},{"s":61,"v":22.30},{"s":61,"v":21.70},{"s":61,"v":21.00},{"s":61,"v":20.45},{"s":61,"v":20.00},{"s":61,"v":19.60},{"s":61,"v":19.25},{"s":61,"v":18.98},{"s":61,"v":18.75},{"s":61,"v":18.55},{"s":61,"v":18.38},{"s":61,"v":18.22},{"s":61,"v":18.15},{"s":61,"v":8.68},
{"s":62,"v":25.08},{"s":62,"v":22.45},{"s":62,"v":21.80},{"s":62,"v":21.10},{"s":62,"v":20.55},{"s":62,"v":20.10},{"s":62,"v":19.70},{"s":62,"v":19.35},{"s":62,"v":19.08},{"s":62,"v":18.88},{"s":62,"v":18.70},{"s":62,"v":18.55},{"s":62,"v":18.45},{"s":62,"v":8.39},
{"s":63,"v":24.95},{"s":63,"v":22.50},{"s":63,"v":21.85},{"s":63,"v":21.15},{"s":63,"v":20.55},{"s":63,"v":20.05},{"s":63,"v":19.62},{"s":63,"v":19.28},{"s":63,"v":19.00},{"s":63,"v":18.78},{"s":63,"v":18.58},{"s":63,"v":18.40},{"s":63,"v":18.25},{"s":63,"v":8.67},{"s":63,"v":8.47},
{"s":64,"v":24.13},{"s":64,"v":21.70},{"s":64,"v":21.10},{"s":64,"v":20.50},{"s":64,"v":20.05},{"s":64,"v":19.65},{"s":64,"v":19.30},{"s":64,"v":19.02},{"s":64,"v":18.78},{"s":64,"v":18.58},{"s":64,"v":18.40},{"s":64,"v":18.25},{"s":64,"v":18.10},
{"s":65,"v":24.50},{"s":65,"v":21.90},{"s":65,"v":21.30},{"s":65,"v":20.70},{"s":65,"v":20.25},{"s":65,"v":19.88},{"s":65,"v":19.55},{"s":65,"v":19.28},{"s":65,"v":19.05},{"s":65,"v":18.85},{"s":65,"v":18.68},{"s":65,"v":18.58},
{"s":66,"v":24.46},{"s":66,"v":21.90},{"s":66,"v":21.25},{"s":66,"v":20.65},{"s":66,"v":20.15},{"s":66,"v":19.75},{"s":66,"v":19.40},{"s":66,"v":19.10},{"s":66,"v":18.85},{"s":66,"v":18.65},{"s":66,"v":18.48},{"s":66,"v":18.32},{"s":66,"v":18.18},{"s":66,"v":8.38},{"s":66,"v":8.15},{"s":66,"v":7.93},
{"s":67,"v":24.93},{"s":67,"v":22.30},{"s":67,"v":21.65},{"s":67,"v":21.00},{"s":67,"v":20.50},{"s":67,"v":20.05},{"s":67,"v":19.68},{"s":67,"v":19.35},{"s":67,"v":19.08},{"s":67,"v":18.88},{"s":67,"v":18.70},{"s":67,"v":18.55},
{"s":68,"v":24.78},{"s":68,"v":22.30},{"s":68,"v":21.55},{"s":68,"v":20.90},{"s":68,"v":20.40},{"s":68,"v":19.98},{"s":68,"v":19.60},{"s":68,"v":19.30},{"s":68,"v":19.05},{"s":68,"v":18.85},{"s":68,"v":18.65},{"s":68,"v":18.50},
{"s":69,"v":24.31},{"s":69,"v":22.00},{"s":69,"v":21.40},{"s":69,"v":20.80},{"s":69,"v":20.30},{"s":69,"v":19.90},{"s":69,"v":19.52},{"s":69,"v":19.20},{"s":69,"v":18.95},{"s":69,"v":18.75},{"s":69,"v":18.55},{"s":69,"v":18.40},{"s":69,"v":18.27},{"s":69,"v":8.85},
{"s":70,"v":24.80},{"s":70,"v":22.00},{"s":70,"v":21.35},{"s":70,"v":20.70},{"s":70,"v":20.15},{"s":70,"v":19.70},{"s":70,"v":19.30},{"s":70,"v":18.98},{"s":70,"v":18.70},{"s":70,"v":18.45},{"s":70,"v":18.25},{"s":70,"v":18.05},{"s":70,"v":17.88},{"s":70,"v":17.72},{"s":70,"v":8.90},{"s":70,"v":8.57},{"s":70,"v":8.53},
{"s":71,"v":24.41},{"s":71,"v":22.00},{"s":71,"v":21.40},{"s":71,"v":20.80},{"s":71,"v":20.25},{"s":71,"v":19.82},{"s":71,"v":19.42},{"s":71,"v":19.10},{"s":71,"v":18.85},{"s":71,"v":18.62},{"s":71,"v":18.42},{"s":71,"v":18.25},{"s":71,"v":18.10},{"s":71,"v":18.04},
{"s":72,"v":24.63},{"s":72,"v":22.30},{"s":72,"v":21.60},{"s":72,"v":20.90},{"s":72,"v":20.30},{"s":72,"v":19.85},{"s":72,"v":19.45},{"s":72,"v":19.10},{"s":72,"v":18.82},{"s":72,"v":18.58},{"s":72,"v":18.38},{"s":72,"v":18.20},{"s":72,"v":18.02},{"s":72,"v":17.92},{"s":72,"v":8.15},
{"s":73,"v":24.85},{"s":73,"v":22.50},{"s":73,"v":21.85},{"s":73,"v":21.15},{"s":73,"v":20.60},{"s":73,"v":20.15},{"s":73,"v":19.75},{"s":73,"v":19.40},{"s":73,"v":19.12},{"s":73,"v":18.90},{"s":73,"v":18.70},{"s":73,"v":18.52},{"s":73,"v":18.45},
{"s":74,"v":25.18},{"s":74,"v":22.70},{"s":74,"v":22.00},{"s":74,"v":21.30},{"s":74,"v":20.75},{"s":74,"v":20.30},{"s":74,"v":19.90},{"s":74,"v":19.55},{"s":74,"v":19.28},{"s":74,"v":19.05},{"s":74,"v":18.85},{"s":74,"v":18.68},
{"s":75,"v":25.38},{"s":75,"v":22.75},{"s":75,"v":22.10},{"s":75,"v":21.40},{"s":75,"v":20.80},{"s":75,"v":20.30},{"s":75,"v":19.88},{"s":75,"v":19.52},{"s":75,"v":19.25},{"s":75,"v":19.02},{"s":75,"v":18.82},{"s":75,"v":18.62},
{"s":76,"v":24.06},{"s":76,"v":21.90},{"s":76,"v":21.30},{"s":76,"v":20.70},{"s":76,"v":20.20},{"s":76,"v":19.78},{"s":76,"v":19.40},{"s":76,"v":19.08},{"s":76,"v":18.82},{"s":76,"v":18.60},{"s":76,"v":18.40},{"s":76,"v":18.22},{"s":76,"v":18.08},{"s":76,"v":18.02},
{"s":77,"v":24.51},{"s":77,"v":22.40},{"s":77,"v":21.75},{"s":77,"v":21.05},{"s":77,"v":20.45},{"s":77,"v":19.98},{"s":77,"v":19.58},{"s":77,"v":19.22},{"s":77,"v":18.95},{"s":77,"v":18.72},{"s":77,"v":18.52},{"s":77,"v":18.35},{"s":77,"v":18.18},{"s":77,"v":18.10},{"s":77,"v":8.53},
{"s":78,"v":24.46},{"s":78,"v":22.10},{"s":78,"v":21.50},{"s":78,"v":20.85},{"s":78,"v":20.30},{"s":78,"v":19.88},{"s":78,"v":19.50},{"s":78,"v":19.18},{"s":78,"v":18.92},{"s":78,"v":18.70},{"s":78,"v":18.50},{"s":78,"v":18.35},{"s":78,"v":18.20},{"s":78,"v":8.53},
{"s":79,"v":24.63},{"s":79,"v":22.50},{"s":79,"v":21.85},{"s":79,"v":21.15},{"s":79,"v":20.60},{"s":79,"v":20.15},{"s":79,"v":19.75},{"s":79,"v":19.40},{"s":79,"v":19.12},{"s":79,"v":18.90},{"s":79,"v":18.70},{"s":79,"v":18.52},{"s":79,"v":18.45},
{"s":80,"v":24.98},{"s":80,"v":22.50},{"s":80,"v":21.80},{"s":80,"v":21.10},{"s":80,"v":20.50},{"s":80,"v":20.05},{"s":80,"v":19.65},{"s":80,"v":19.28},{"s":80,"v":19.00},{"s":80,"v":18.75},{"s":80,"v":18.55},{"s":80,"v":18.38},{"s":80,"v":18.22},{"s":80,"v":18.12},
{"s":81,"v":24.81},{"s":81,"v":22.40},{"s":81,"v":21.70},{"s":81,"v":21.00},{"s":81,"v":20.45},{"s":81,"v":20.00},{"s":81,"v":19.60},{"s":81,"v":19.25},{"s":81,"v":18.98},{"s":81,"v":18.75},{"s":81,"v":18.55},{"s":81,"v":18.40},{"s":81,"v":18.26},
{"s":82,"v":24.75},{"s":82,"v":22.50},{"s":82,"v":21.80},{"s":82,"v":21.10},{"s":82,"v":20.55},{"s":82,"v":20.10},{"s":82,"v":19.72},{"s":82,"v":19.40},{"s":82,"v":19.15},{"s":82,"v":18.95},{"s":82,"v":18.78},{"s":82,"v":18.62},
{"s":83,"v":25.03},{"s":83,"v":22.75},{"s":83,"v":22.05},{"s":83,"v":21.35},{"s":83,"v":20.75},{"s":83,"v":20.25},{"s":83,"v":19.82},{"s":83,"v":19.45},{"s":83,"v":19.15},{"s":83,"v":18.92},{"s":83,"v":18.72},{"s":83,"v":18.55},{"s":83,"v":18.42},
{"s":84,"v":24.51},{"s":84,"v":22.40},{"s":84,"v":21.70},{"s":84,"v":21.05},{"s":84,"v":20.55},{"s":84,"v":20.15},{"s":84,"v":19.80},{"s":84,"v":19.50},{"s":84,"v":19.25},{"s":84,"v":19.05},{"s":84,"v":18.90},
{"s":85,"v":25.03},{"s":85,"v":22.45},{"s":85,"v":21.75},{"s":85,"v":21.10},{"s":85,"v":20.55},{"s":85,"v":20.10},{"s":85,"v":19.70},{"s":85,"v":19.38},{"s":85,"v":19.10},{"s":85,"v":18.90},{"s":85,"v":18.72},{"s":85,"v":18.58},
{"s":86,"v":25.05},{"s":86,"v":22.20},{"s":86,"v":21.55},{"s":86,"v":20.95},{"s":86,"v":20.40},{"s":86,"v":19.98},{"s":86,"v":19.60},{"s":86,"v":19.28},{"s":86,"v":19.02},{"s":86,"v":18.80},{"s":86,"v":18.60},{"s":86,"v":18.45},{"s":86,"v":18.40},
{"s":87,"v":24.25},{"s":87,"v":21.90},{"s":87,"v":21.30},{"s":87,"v":20.70},{"s":87,"v":20.22},{"s":87,"v":19.82},{"s":87,"v":19.48},{"s":87,"v":19.20},{"s":87,"v":18.95},{"s":87,"v":18.75},{"s":87,"v":18.58},{"s":87,"v":18.45},
{"s":88,"v":24.60},{"s":88,"v":22.30},{"s":88,"v":21.60},{"s":88,"v":20.95},{"s":88,"v":20.40},{"s":88,"v":19.95},{"s":88,"v":19.55},{"s":88,"v":19.22},{"s":88,"v":18.95},{"s":88,"v":18.72},{"s":88,"v":18.52},{"s":88,"v":18.35},{"s":88,"v":18.30},
{"s":89,"v":24.58},{"s":89,"v":22.20},{"s":89,"v":21.50},{"s":89,"v":20.85},{"s":89,"v":20.30},{"s":89,"v":19.88},{"s":89,"v":19.50},{"s":89,"v":19.18},{"s":89,"v":18.92},{"s":89,"v":18.70},{"s":89,"v":18.50},{"s":89,"v":18.35},{"s":89,"v":18.30},{"s":89,"v":8.56},
{"s":90,"v":24.56},{"s":90,"v":22.20},{"s":90,"v":21.55},{"s":90,"v":20.90},{"s":90,"v":20.40},{"s":90,"v":19.98},{"s":90,"v":19.60},{"s":90,"v":19.30},{"s":90,"v":19.05},{"s":90,"v":18.85},{"s":90,"v":18.68},{"s":90,"v":18.52},{"s":90,"v":8.22},
{"s":91,"v":25.10},{"s":91,"v":22.00},{"s":91,"v":21.40},{"s":91,"v":20.85},{"s":91,"v":20.35},{"s":91,"v":19.95},{"s":91,"v":19.62},{"s":91,"v":19.35},{"s":91,"v":19.12},{"s":91,"v":18.92},{"s":91,"v":18.75},{"s":91,"v":18.65},
{"s":92,"v":25.03},{"s":92,"v":22.50},{"s":92,"v":21.80},{"s":92,"v":21.10},{"s":92,"v":20.55},{"s":92,"v":20.10},{"s":92,"v":19.72},{"s":92,"v":19.40},{"s":92,"v":19.12},{"s":92,"v":18.90},{"s":92,"v":18.72},{"s":92,"v":18.56},
{"s":93,"v":23.95},{"s":93,"v":22.50},{"s":93,"v":21.75},{"s":93,"v":21.05},{"s":93,"v":20.50},{"s":93,"v":20.05},{"s":93,"v":19.65},{"s":93,"v":19.32},{"s":93,"v":19.05},{"s":93,"v":18.85},{"s":93,"v":18.65},{"s":93,"v":18.48},
{"s":94,"v":24.55},{"s":94,"v":22.30},{"s":94,"v":21.60},{"s":94,"v":20.95},{"s":94,"v":20.40},{"s":94,"v":19.95},{"s":94,"v":19.55},{"s":94,"v":19.20},{"s":94,"v":18.92},{"s":94,"v":18.70},{"s":94,"v":18.50},{"s":94,"v":18.32},{"s":94,"v":18.20},
{"s":95,"v":24.38},{"s":95,"v":22.20},{"s":95,"v":21.50},{"s":95,"v":20.85},{"s":95,"v":20.30},{"s":95,"v":19.85},{"s":95,"v":19.45},{"s":95,"v":19.12},{"s":95,"v":18.85},{"s":95,"v":18.62},{"s":95,"v":18.42},{"s":95,"v":18.25},{"s":95,"v":18.10},
{"s":96,"v":24.85},{"s":96,"v":22.60},{"s":96,"v":21.85},{"s":96,"v":21.10},{"s":96,"v":20.50},{"s":96,"v":20.02},{"s":96,"v":19.62},{"s":96,"v":19.28},{"s":96,"v":19.00},{"s":96,"v":18.78},{"s":96,"v":18.58},{"s":96,"v":18.40},{"s":96,"v":18.28},
{"s":97,"v":25.40},{"s":97,"v":22.50},{"s":97,"v":21.85},{"s":97,"v":21.15},{"s":97,"v":20.60},{"s":97,"v":20.12},{"s":97,"v":19.72},{"s":97,"v":19.38},{"s":97,"v":19.10},{"s":97,"v":18.88},{"s":97,"v":18.68},{"s":97,"v":18.50},{"s":97,"v":18.40},
{"s":98,"v":25.31},{"s":98,"v":22.60},{"s":98,"v":21.90},{"s":98,"v":21.20},{"s":98,"v":20.60},{"s":98,"v":20.10},{"s":98,"v":19.70},{"s":98,"v":19.35},{"s":98,"v":19.05},{"s":98,"v":18.82},{"s":98,"v":18.62},{"s":98,"v":18.45},{"s":98,"v":18.35},
{"s":99,"v":24.13},{"s":99,"v":21.80},{"s":99,"v":21.20},{"s":99,"v":20.65},{"s":99,"v":20.15},{"s":99,"v":19.78},{"s":99,"v":19.42},{"s":99,"v":19.12},{"s":99,"v":18.88},{"s":99,"v":18.68},{"s":99,"v":18.50},{"s":99,"v":18.35},{"s":99,"v":18.30},
{"s":100,"v":24.63},{"s":100,"v":22.40},{"s":100,"v":21.70},{"s":100,"v":21.00},{"s":100,"v":20.40},{"s":100,"v":19.95},{"s":100,"v":19.55},{"s":100,"v":19.20},{"s":100,"v":18.92},{"s":100,"v":18.68},{"s":100,"v":18.48},{"s":100,"v":18.30},{"s":100,"v":18.15},{"s":100,"v":18.08},
{"s":101,"v":24.48},{"s":101,"v":22.20},{"s":101,"v":21.50},{"s":101,"v":20.85},{"s":101,"v":20.30},{"s":101,"v":19.88},{"s":101,"v":19.48},{"s":101,"v":19.15},{"s":101,"v":18.88},{"s":101,"v":18.65},{"s":101,"v":18.45},{"s":101,"v":18.30},{"s":101,"v":18.15},
{"s":102,"v":24.61},{"s":102,"v":22.20},{"s":102,"v":21.55},{"s":102,"v":20.90},{"s":102,"v":20.35},{"s":102,"v":19.92},{"s":102,"v":19.52},{"s":102,"v":19.18},{"s":102,"v":18.90},{"s":102,"v":18.68},{"s":102,"v":18.48},{"s":102,"v":18.32},{"s":102,"v":18.18},
{"s":103,"v":25.15},{"s":103,"v":22.30},{"s":103,"v":21.60},{"s":103,"v":20.95},{"s":103,"v":20.40},{"s":103,"v":19.95},{"s":103,"v":19.55},{"s":103,"v":19.20},{"s":103,"v":18.92},{"s":103,"v":18.68},{"s":103,"v":18.48},{"s":103,"v":18.30},{"s":103,"v":18.15},{"s":103,"v":18.06},{"s":103,"v":8.56},
{"s":104,"v":25.05},{"s":104,"v":22.30},{"s":104,"v":21.60},{"s":104,"v":20.95},{"s":104,"v":20.40},{"s":104,"v":19.95},{"s":104,"v":19.55},{"s":104,"v":19.22},{"s":104,"v":18.95},{"s":104,"v":18.72},{"s":104,"v":18.52},{"s":104,"v":18.35},{"s":104,"v":18.20},{"s":104,"v":18.13},
{"s":105,"v":24.00},{"s":105,"v":22.00},{"s":105,"v":21.35},{"s":105,"v":20.75},{"s":105,"v":20.20},{"s":105,"v":19.78},{"s":105,"v":19.40},{"s":105,"v":19.08},{"s":105,"v":18.82},{"s":105,"v":18.60},{"s":105,"v":18.40},{"s":105,"v":18.25},{"s":105,"v":18.10},
{"s":106,"v":24.40},{"s":106,"v":22.20},{"s":106,"v":21.50},{"s":106,"v":20.85},{"s":106,"v":20.25},{"s":106,"v":19.80},{"s":106,"v":19.40},{"s":106,"v":19.05},{"s":106,"v":18.78},{"s":106,"v":18.55},{"s":106,"v":18.35},{"s":106,"v":18.18},{"s":106,"v":18.02},{"s":106,"v":17.88},{"s":106,"v":9.11},{"s":106,"v":8.22},
{"s":107,"v":24.40},{"s":107,"v":22.10},{"s":107,"v":21.45},{"s":107,"v":20.80},{"s":107,"v":20.25},{"s":107,"v":19.82},{"s":107,"v":19.42},{"s":107,"v":19.10},{"s":107,"v":18.85},{"s":107,"v":18.62},{"s":107,"v":18.42},{"s":107,"v":18.25},{"s":107,"v":18.10},{"s":107,"v":18.06},{"s":107,"v":8.79},{"s":107,"v":8.65},
{"s":108,"v":24.56},{"s":108,"v":21.80},{"s":108,"v":21.20},{"s":108,"v":20.65},{"s":108,"v":20.15},{"s":108,"v":19.75},{"s":108,"v":19.38},{"s":108,"v":19.08},{"s":108,"v":18.82},{"s":108,"v":18.60},{"s":108,"v":18.42},{"s":108,"v":18.25},{"s":108,"v":18.10},{"s":108,"v":8.79},{"s":108,"v":8.67},
{"s":109,"v":25.13},{"s":109,"v":22.30},{"s":109,"v":21.60},{"s":109,"v":20.95},{"s":109,"v":20.38},{"s":109,"v":19.92},{"s":109,"v":19.52},{"s":109,"v":19.18},{"s":109,"v":18.90},{"s":109,"v":18.68},{"s":109,"v":18.48},{"s":109,"v":18.30},{"s":109,"v":18.15},{"s":109,"v":18.05},{"s":109,"v":8.56},
{"s":110,"v":25.05},{"s":110,"v":22.30},{"s":110,"v":21.65},{"s":110,"v":21.00},{"s":110,"v":20.45},{"s":110,"v":20.00},{"s":110,"v":19.60},{"s":110,"v":19.25},{"s":110,"v":18.98},{"s":110,"v":18.75},{"s":110,"v":18.55},{"s":110,"v":18.38},{"s":110,"v":18.22},{"s":110,"v":18.12},
{"s":111,"v":23.93},{"s":111,"v":21.90},{"s":111,"v":21.25},{"s":111,"v":20.65},{"s":111,"v":20.15},{"s":111,"v":19.75},{"s":111,"v":19.38},{"s":111,"v":19.08},{"s":111,"v":18.82},{"s":111,"v":18.60},{"s":111,"v":18.40},{"s":111,"v":18.25},{"s":111,"v":18.10},
{"s":112,"v":24.43},{"s":112,"v":21.70},{"s":112,"v":21.10},{"s":112,"v":20.50},{"s":112,"v":20.00},{"s":112,"v":19.60},{"s":112,"v":19.25},{"s":112,"v":18.95},{"s":112,"v":18.70},{"s":112,"v":18.48},{"s":112,"v":18.28},{"s":112,"v":18.10},{"s":112,"v":17.95},{"s":112,"v":17.80},{"s":112,"v":17.75},{"s":112,"v":8.73},{"s":112,"v":8.59},
{"s":113,"v":24.33},{"s":113,"v":22.00},{"s":113,"v":21.35},{"s":113,"v":20.70},{"s":113,"v":20.15},{"s":113,"v":19.72},{"s":113,"v":19.35},{"s":113,"v":19.02},{"s":113,"v":18.75},{"s":113,"v":18.52},{"s":113,"v":18.32},{"s":113,"v":18.15},{"s":113,"v":18.00},{"s":113,"v":17.85},{"s":113,"v":9.06},{"s":113,"v":8.78},
{"s":114,"v":24.56},{"s":114,"v":22.20},{"s":114,"v":21.50},{"s":114,"v":20.85},{"s":114,"v":20.30},{"s":114,"v":19.85},{"s":114,"v":19.45},{"s":114,"v":19.12},{"s":114,"v":18.85},{"s":114,"v":18.62},{"s":114,"v":18.42},{"s":114,"v":18.25},{"s":114,"v":18.10},{"s":114,"v":18.00},{"s":114,"v":8.63},{"s":114,"v":8.58},{"s":114,"v":8.42},
{"s":115,"v":25.10},{"s":115,"v":22.45},{"s":115,"v":21.75},{"s":115,"v":21.05},{"s":115,"v":20.50},{"s":115,"v":20.05},{"s":115,"v":19.68},{"s":115,"v":19.35},{"s":115,"v":19.08},{"s":115,"v":18.88},{"s":115,"v":18.70},{"s":115,"v":18.52},{"s":115,"v":18.42},
{"s":116,"v":24.98},{"s":116,"v":22.30},{"s":116,"v":21.65},{"s":116,"v":21.00},{"s":116,"v":20.45},{"s":116,"v":20.00},{"s":116,"v":19.62},{"s":116,"v":19.30},{"s":116,"v":19.02},{"s":116,"v":18.80},{"s":116,"v":18.62},{"s":116,"v":18.45},{"s":116,"v":18.38},{"s":116,"v":8.96},
{"s":117,"v":24.00},{"s":117,"v":21.90},{"s":117,"v":21.30},{"s":117,"v":20.70},{"s":117,"v":20.20},{"s":117,"v":19.80},{"s":117,"v":19.45},{"s":117,"v":19.15},{"s":117,"v":18.90},{"s":117,"v":18.68},{"s":117,"v":18.50},{"s":117,"v":18.35},{"s":117,"v":18.31},
{"s":118,"v":24.33},{"s":118,"v":22.00},{"s":118,"v":21.40},{"s":118,"v":20.80},{"s":118,"v":20.25},{"s":118,"v":19.82},{"s":118,"v":19.45},{"s":118,"v":19.12},{"s":118,"v":18.88},{"s":118,"v":18.65},{"s":118,"v":18.45},{"s":118,"v":18.28},{"s":118,"v":18.18},{"s":118,"v":8.64},
{"s":119,"v":24.51},{"s":119,"v":22.00},{"s":119,"v":21.40},{"s":119,"v":20.78},{"s":119,"v":20.25},{"s":119,"v":19.82},{"s":119,"v":19.45},{"s":119,"v":19.12},{"s":119,"v":18.85},{"s":119,"v":18.62},{"s":119,"v":18.42},{"s":119,"v":18.25},{"s":119,"v":18.14},
{"s":120,"v":24.51},{"s":120,"v":22.00},{"s":120,"v":21.35},{"s":120,"v":20.75},{"s":120,"v":20.20},{"s":120,"v":19.78},{"s":120,"v":19.40},{"s":120,"v":19.08},{"s":120,"v":18.82},{"s":120,"v":18.60},{"s":120,"v":18.40},{"s":120,"v":18.22},{"s":120,"v":18.08},{"s":120,"v":17.98},{"s":120,"v":8.79}
]
},
"encoding": {
"x": {"field": "s", "type": "ordinal", "sort": "ascending",
  "scale": {"type": "band", "paddingInner": 0, "paddingOuter": 0.1},
  "axis": {"title": "Sample", "labels": false, "ticks": false, "domain": false, "grid": true, "gridColor": "#FFFFFF", "gridWidth": 2.4, "bandPosition": 0.5, "titleFont": "Liberation Sans", "titleFontSize": 27.5, "titleFontWeight": "normal", "titleColor": "#000000", "titlePadding": 14}}
},
"layer": [
{"data": {"values": [{"g": 7.5}, {"g": 12.5}, {"g": 17.5}, {"g": 22.5}]},
 "mark": {"type": "rule", "color": "#FFFFFF", "strokeWidth": 1.2},
 "encoding": {"x": null, "y": {"field": "g", "type": "quantitative",
   "scale": {"domain": [6.965, 26.25], "nice": false, "zero": false},
   "axis": {"title": "Normalized Abundance", "values": [10, 15, 20, 25], "format": "d", "grid": true, "gridColor": "#FFFFFF", "gridWidth": 2.4, "domain": false, "tickColor": "#333333", "tickSize": 6.5, "tickWidth": 2.2, "labelFont": "Liberation Sans", "labelFontSize": 22, "labelColor": "#4D4D4D", "labelPadding": 6, "titleFont": "Liberation Sans", "titleFontSize": 27.5, "titleFontWeight": "normal", "titleColor": "#000000", "titlePadding": 12}}}},
{"data": {"name": "boxes"},
 "mark": {"type": "rule", "color": "#333333", "strokeWidth": 2.6},
 "encoding": {"y": {"field": "lw", "type": "quantitative"}, "y2": {"field": "uw"}}},
{"data": {"name": "boxes"},
 "mark": {"type": "bar", "fill": "#FFFFFF", "stroke": "#333333", "strokeWidth": 2.6, "width": 10.4},
 "encoding": {"y": {"field": "q1", "type": "quantitative"}, "y2": {"field": "q3"}}},
{"data": {"name": "boxes"},
 "mark": {"type": "tick", "color": "#333333", "thickness": 4.8, "size": 12.8, "opacity": 1},
 "encoding": {"y": {"field": "m", "type": "quantitative"}}},
{"data": {"name": "out"},
 "mark": {"type": "circle", "color": "#333333", "opacity": 1, "size": 120, "stroke": null},
 "encoding": {"y": {"field": "v", "type": "quantitative"}}}
]
}
